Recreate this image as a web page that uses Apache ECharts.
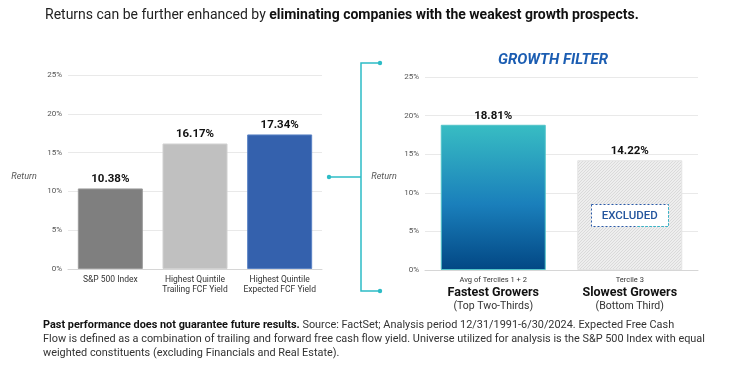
<!DOCTYPE html>
<html>
<head>
<meta charset="utf-8">
<script src="https://cdn.jsdelivr.net/npm/echarts@6/dist/echarts.min.js"></script>
<style>
html,body{margin:0;padding:0;background:#fff;}
#chart{width:750px;height:369px;}
</style>
</head>
<body>
<div id="chart"></div>
<script>
const leftCategories = ['S&P 500 Index', 'Highest Quintile\nTrailing FCF Yield', 'Highest Quintile\nExpected FCF Yield'];
const leftValues = [10.38, 16.17, 17.34];
const rightTopLines = ['Avg of Terciles 1 + 2', 'Tercile 3'];
const rightMainLines = ['Fastest Growers', 'Slowest Growers'];
const rightSubLines = ['(Top Two-Thirds)', '(Bottom Third)'];
const rightValues = [18.81, 14.22];
const yMin = 0, yMax = 25, yStep = 5;

const FONT = "'Roboto', 'Liberation Sans', sans-serif";

// fine hatch pattern for excluded bar
const pc = document.createElement('canvas');
pc.width = 3; pc.height = 3;
const pctx = pc.getContext('2d');
pctx.fillStyle = '#eeeeee';
pctx.fillRect(0, 0, 3, 3);
pctx.fillStyle = '#dadada';
pctx.fillRect(2, 0, 1, 1);
pctx.fillRect(1, 1, 1, 1);
pctx.fillRect(0, 2, 1, 1);

const chart = echarts.init(document.getElementById('chart'));

const yAxisCommon = {
  type: 'value', min: yMin, max: yMax, interval: yStep,
  axisLine: {show: false}, axisTick: {show: false},
  axisLabel: {formatter: '{value}%', color: '#555', fontSize: 8, fontFamily: FONT, margin: 6},
  splitLine: {lineStyle: {color: '#e9e9e9', width: 1}}
};

const leftColors = [
  {color: '#7f7f7f', borderColor: '#9a9a9a'},
  {color: '#c0c0c0', borderColor: '#d0d0d0'},
  {color: '#3461ad', borderColor: '#5a82c4'}
];

const option = {
  backgroundColor: '#fff',
  animation: false,
  grid: [
    {left: 68, right: 428, top: 75, bottom: 100},
    {left: 425, right: 52, top: 77, bottom: 99}
  ],
  xAxis: [
    {type: 'category', gridIndex: 0, data: leftCategories,
      axisLine: {lineStyle: {color: '#d6d6d6'}}, axisTick: {show: false},
      axisLabel: {color: '#333', fontSize: 8.5, lineHeight: 10, fontFamily: FONT, margin: 6, interval: 0}},
    {type: 'category', gridIndex: 1, data: rightMainLines,
      axisLine: {lineStyle: {color: '#d6d6d6'}}, axisTick: {show: false},
      axisLabel: {
        interval: 0, margin: 5, fontFamily: FONT,
        formatter: function (v, i) {
          return '{s|' + rightTopLines[i] + '}\n{b|' + rightMainLines[i] + '}\n{p|' + rightSubLines[i] + '}';
        },
        rich: {
          s: {fontSize: 7.5, color: '#333', fontFamily: FONT, lineHeight: 11},
          b: {fontSize: 12.5, color: '#111', fontFamily: FONT, fontWeight: 'bold', lineHeight: 14},
          p: {fontSize: 10.5, color: '#333', fontFamily: FONT, lineHeight: 13}
        }
      }}
  ],
  yAxis: [
    Object.assign({gridIndex: 0}, yAxisCommon),
    Object.assign({gridIndex: 1}, yAxisCommon)
  ],
  series: [
    {
      type: 'bar', xAxisIndex: 0, yAxisIndex: 0, barWidth: 65,
      data: leftValues.map((v, i) => ({value: v, itemStyle: {color: leftColors[i].color, borderColor: leftColors[i].borderColor, borderWidth: 1}})),
      label: {show: true, position: 'top', distance: 3, formatter: p => p.value.toFixed(2) + '%',
        color: '#111', fontSize: 11.5, fontWeight: 'bold', fontFamily: FONT}
    },
    {
      type: 'bar', xAxisIndex: 1, yAxisIndex: 1, barWidth: 105,
      data: rightValues.map((v, i) => ({
        value: v,
        itemStyle: i === 0 ? {
          color: new echarts.graphic.LinearGradient(0, 0, 0, 1, [
            {offset: 0, color: '#38bdc3'},
            {offset: 0.55, color: '#1a7fbb'},
            {offset: 1, color: '#024784'}
          ]),
          borderColor: '#52c4c9', borderWidth: 1
        } : {
          color: {image: pc, repeat: 'repeat'},
          borderColor: '#e4e4e4', borderWidth: 1
        }
      })),
      label: {show: true, position: 'top', distance: 3, formatter: p => p.value.toFixed(2) + '%',
        color: '#111', fontSize: 11.5, fontWeight: 'bold', fontFamily: FONT}
    }
  ]
};
chart.setOption(option);

// annotations
const teal = '#2dbcc6';
const p0 = chart.convertToPixel({xAxisIndex: 1, yAxisIndex: 1}, [1, 7.1]);
const bx = p0[0], by = p0[1];
const boxW = 77, boxH = 22;
const bl = Math.round(bx - boxW / 2) + 0.5, bt = Math.round(by - boxH / 2) + 0.5;

chart.setOption({
  graphic: [
    {type: 'text', left: 45, top: 8, style: {
      text: 'Returns can be further enhanced by {b|eliminating companies with the weakest growth prospects.}',
      fontSize: 14, fill: '#222', fontFamily: FONT,
      rich: {b: {fontSize: 14, fontWeight: 'bold', fill: '#111', fontFamily: FONT}}
    }},
    {type: 'text', x: 553, y: 60, style: {
      text: 'GROWTH FILTER', fontSize: 15, fontWeight: 'bold', fontStyle: 'italic',
      fill: '#1b5db2', fontFamily: FONT, align: 'center', verticalAlign: 'middle'
    }},
    {type: 'text', x: 24, y: 177, style: {text: 'Return', fontSize: 9, fontStyle: 'italic', fill: '#555', fontFamily: FONT, align: 'center', verticalAlign: 'middle'}},
    {type: 'text', x: 384, y: 177, style: {text: 'Return', fontSize: 9, fontStyle: 'italic', fill: '#555', fontFamily: FONT, align: 'center', verticalAlign: 'middle'}},
    // bracket
    {type: 'polyline', shape: {points: [[380, 63], [361, 63], [361, 291], [380, 291]]}, style: {stroke: teal, lineWidth: 1.5, fill: null}},
    {type: 'line', shape: {x1: 329, y1: 177, x2: 361, y2: 177}, style: {stroke: teal, lineWidth: 1.5}},
    {type: 'circle', shape: {cx: 380, cy: 63, r: 2.2}, style: {fill: teal}},
    {type: 'circle', shape: {cx: 380, cy: 291, r: 2.2}, style: {fill: teal}},
    {type: 'circle', shape: {cx: 329, cy: 177, r: 2.2}, style: {fill: teal}},
    // excluded box
    {type: 'rect', z: 100, shape: {x: bl, y: bt, width: boxW, height: boxH},
      style: {fill: '#fff', stroke: '#2a5aa8', lineWidth: 1, lineDash: [2, 2]}},
    {type: 'polyline', z: 101, shape: {points: [[bl + boxW * 0.6, bt + boxH], [bl + boxW, bt + boxH], [bl + boxW, bt]]},
      style: {stroke: teal, fill: null, lineWidth: 1, lineDash: [2, 2]}},
    {type: 'text', z: 102, x: bx, y: by + 1, style: {text: 'EXCLUDED', fontSize: 11.5, fontWeight: 500, fill: '#24559e', fontFamily: FONT, align: 'center', verticalAlign: 'middle'}},
    // footnote
    {type: 'text', left: 43, top: 318, style: {
      text: '{b|Past performance does not guarantee future results.} Source: FactSet; Analysis period 12/31/1991-6/30/2024. Expected Free Cash\nFlow is defined as a combination of trailing and forward free cash flow yield. Universe utilized for analysis is the S&P 500 Index with equal\nweighted constituents (excluding Financials and Real Estate).',
      fontSize: 10.9, lineHeight: 14, fill: '#333', fontFamily: FONT,
      rich: {b: {fontSize: 10.9, lineHeight: 14, fontWeight: 'bold', fill: '#111', fontFamily: FONT}}
    }}
  ]
});
</script>
</body>
</html>
